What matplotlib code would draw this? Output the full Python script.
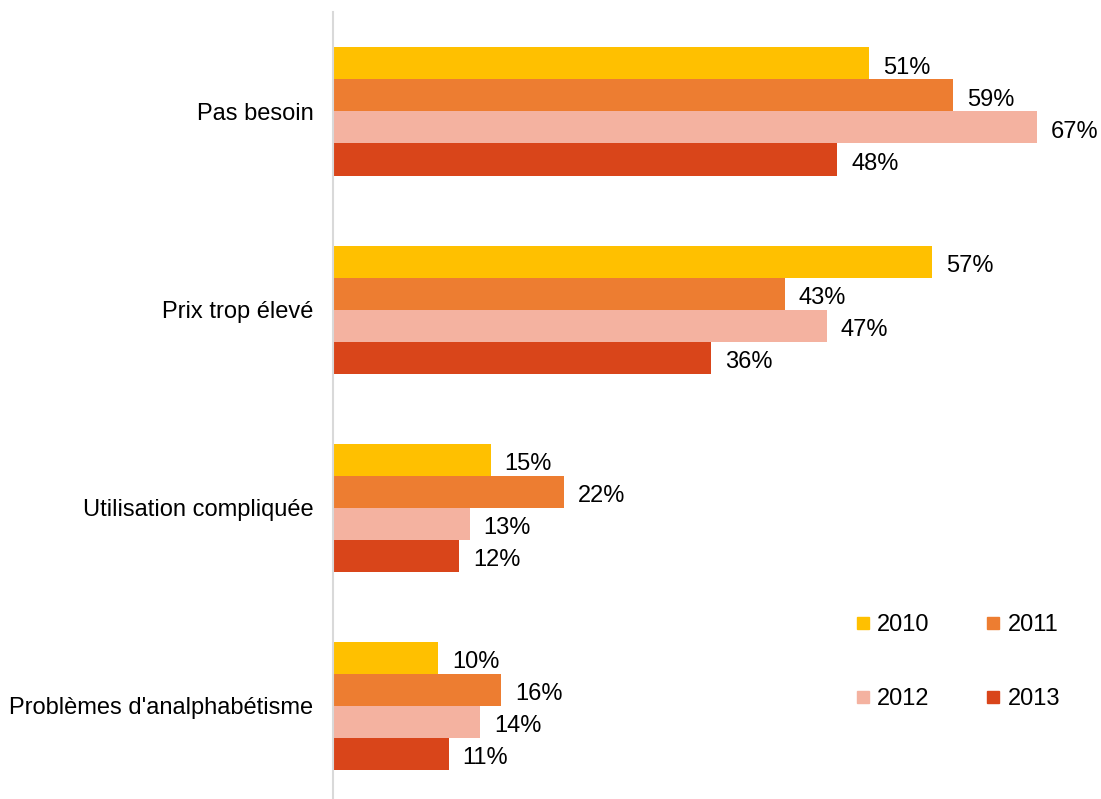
import numpy as np
import matplotlib
matplotlib.use("Agg")
import matplotlib.pyplot as plt
from matplotlib.lines import Line2D

plt.rcParams['font.family'] = ['Liberation Sans', 'DejaVu Sans']

categories = ["Pas besoin", "Prix trop élevé", "Utilisation compliquée", "Problèmes d'analphabétisme"]
years = ["2010", "2011", "2012", "2013"]
v2010 = [51, 57, 15, 10]
v2011 = [59, 43, 22, 16]
v2012 = [67, 47, 13, 14]
v2013 = [48, 36, 12, 11]
series = [v2010, v2011, v2012, v2013]
colors = ["#FFC000", "#ED7D31", "#F4B2A0", "#D9451A"]

fig = plt.figure(figsize=(11.01, 7.99), dpi=100)
ax = fig.add_axes([0.3025, -0.0075, 0.668, 0.992])

y = np.arange(len(categories))
h = 32 / 198.0
for i, (vals, col) in enumerate(zip(series, colors)):
    pos = y + (i - 1.5) * h
    bars = ax.barh(pos, vals, height=h, color=col, label=years[i])
    for b, v in zip(bars, vals):
        ax.annotate("%d%%" % v, (b.get_width(), b.get_y() + b.get_height() / 2),
                    xytext=(10, -3), textcoords="offset points",
                    va="center", ha="left", fontsize=17, color="#000000")

ax.set_xlim(0, 70)
ax.set_ylim(3.5, -0.5)
ax.set_yticks(y)
ax.set_yticklabels(categories, fontsize=17)
ax.tick_params(axis="y", length=0, pad=14)
ax.set_xticks([])
for s in ["top", "right", "bottom"]:
    ax.spines[s].set_visible(False)
ax.spines["left"].set_color("#D9D9D9")
ax.spines["left"].set_linewidth(1.5)

# legend fills column by column, so reorder to get 2010 2011 / 2012 2013
handles = [Line2D([], [], marker="s", linestyle="none", markersize=8.6,
                  markerfacecolor=c, markeredgecolor=c) for c in colors]
order = [0, 2, 1, 3]
fig.legend([handles[k] for k in order], [years[k] for k in order], ncol=2,
           loc="center", bbox_to_anchor=(0.870, 0.171),
           frameon=False, fontsize=17, labelspacing=2.2, columnspacing=2.4,
           handlelength=0.6, handletextpad=0.3)

fig.savefig("out.png", dpi=100)
